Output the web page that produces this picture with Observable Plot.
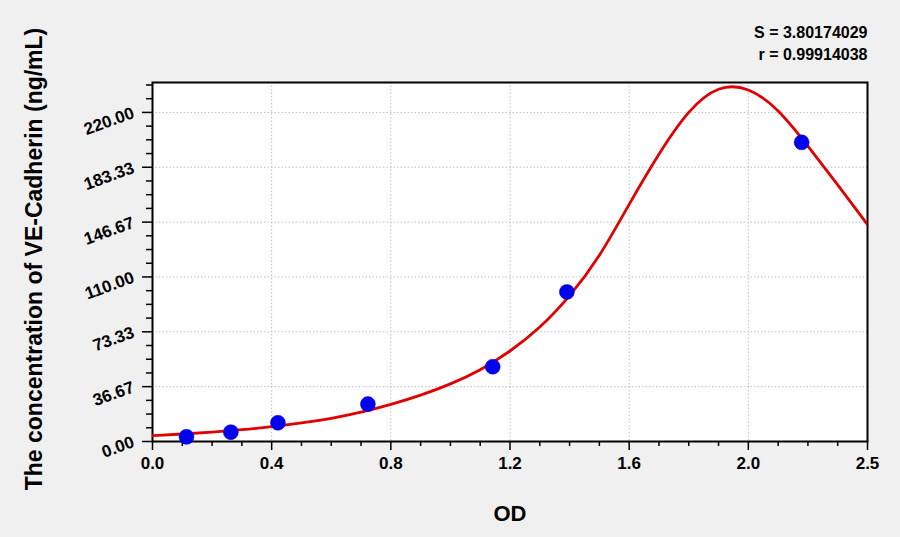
<!DOCTYPE html>
<html>
<head>
<meta charset="utf-8">
<script src="https://cdn.jsdelivr.net/npm/d3@7"></script>
<script src="https://cdn.jsdelivr.net/npm/@observablehq/plot@0.6"></script>
<style>
  html, body { margin: 0; padding: 0; background: #f0f0f0; }
  #chart svg { display: block; }
</style>
</head>
<body>
<div id="chart"></div>
<script>
// Standards (measured points)
const pointOD   = [0.114, 0.263, 0.421, 0.723, 1.142, 1.391, 2.179];
const pointConc = [3.125, 6.25, 12.5, 25, 50, 100, 200];

// Fitted curve
const curveOD   = [0, 0.1, 0.2, 0.3, 0.4, 0.5, 0.6, 0.7, 0.8, 0.9, 1.0, 1.1, 1.2, 1.3, 1.4, 1.5, 1.6, 1.7, 1.8, 1.9, 2.0, 2.1, 2.2, 2.3, 2.4];
const curveConc = [3.9, 5.0, 6.3, 7.9, 9.9, 12.4, 15.5, 19.6, 24.8, 31, 38.5, 48, 60.5, 76.5, 97.5, 124.5, 158.5, 192, 220, 235.5, 235, 221, 197.5, 171.5, 145];

// Axis ticks
const xTickValues = [0, 0.4, 0.8, 1.2, 1.6, 2.0, 2.4];
const xTickLabels = ["0.0", "0.4", "0.8", "1.2", "1.6", "2.0", "2.5"];
const xMinorTicks = [0.1,0.2,0.3,0.5,0.6,0.7,0.9,1.0,1.1,1.3,1.4,1.5,1.7,1.8,1.9,2.1,2.2,2.3];
const yTickValues = [0, 36.67, 73.33, 110, 146.67, 183.33, 220];
const yTickLabels = ["0.00", "36.67", "73.33", "110.00", "146.67", "183.33", "220.00"];
const yMinorTicks = [9.17,18.33,27.5,45.83,55,64.17,82.5,91.67,100.83,119.17,128.33,137.5,155.83,165,174.17,192.5,201.67,210.83,229.17,238.33];

const statLabels = ["S = 3.80174029", "r = 0.99914038"];
const xTitle = "OD";
const yTitle = "The concentration of VE-Cadherin (ng/mL)";

const points = pointOD.map((x, i) => ({x, y: pointConc[i]}));
const curve = curveOD.map((x, i) => ({x, y: curveConc[i]}));

const font = "'Liberation Sans', Arial, sans-serif";

const chart = Plot.plot({
  width: 900,
  height: 537,
  marginLeft: 152,
  marginRight: 33,
  marginTop: 82,
  marginBottom: 96,
  style: {background: "#f0f0f0", fontFamily: font, color: "black", overflow: "visible"},
  x: {domain: [0, 2.4]},
  y: {domain: [0, 240]},
  marks: [
    Plot.frame({fill: "white", stroke: null}),
    Plot.gridX(xTickValues, {stroke: "#c0c0c0", strokeOpacity: 1, strokeDasharray: "1.5,2"}),
    Plot.gridY(yTickValues, {stroke: "#c0c0c0", strokeOpacity: 1, strokeDasharray: "1.5,2"}),
    Plot.axisX(xMinorTicks, {tickSize: 5, text: null, label: null, strokeWidth: 1.5}),
    Plot.axisX(xTickValues, {
      tickSize: 9, tickPadding: 6, strokeWidth: 1.5, label: null,
      tickFormat: (d) => xTickLabels[xTickValues.indexOf(d)],
      fontSize: 17, fontWeight: "bold"
    }),
    Plot.axisY(yMinorTicks, {tickSize: 6, text: null, label: null, strokeWidth: 1.5}),
    Plot.axisY(yTickValues, {
      tickSize: 10, tickPadding: 9, strokeWidth: 1.5, label: null,
      tickRotate: -20,
      tickFormat: (d) => yTickLabels[yTickValues.indexOf(d)],
      fontSize: 17, fontWeight: "bold"
    }),
    Plot.frame({stroke: "black", strokeWidth: 2}),
    Plot.line(curve, {x: "x", y: "y", stroke: "#e00000", strokeWidth: 2.8, curve: "natural", clip: true}),
    Plot.dot(points, {x: "x", y: "y", r: 7.5, fill: "#0000ee", stroke: "#0000cc", strokeWidth: 0.5}),
    Plot.text([statLabels[0]], {frameAnchor: "top-right", text: d => d, textAnchor: "end", lineAnchor: "bottom", dy: -45, fontSize: 16, fontWeight: "bold"}),
    Plot.text([statLabels[1]], {frameAnchor: "top-right", text: d => d, textAnchor: "end", lineAnchor: "bottom", dy: -23, fontSize: 16, fontWeight: "bold"}),
    Plot.text([xTitle], {frameAnchor: "bottom", text: d => d, lineAnchor: "bottom", dx: 0, dy: 79, fontSize: 22, fontWeight: "bold"}),
    Plot.text([yTitle], {frameAnchor: "left", text: d => d, rotate: -90, textAnchor: "middle", lineAnchor: "middle", dx: -118, dy: -3, fontSize: 23, fontWeight: "bold"})
  ]
});
document.getElementById("chart").appendChild(chart);
</script>
</body>
</html>
